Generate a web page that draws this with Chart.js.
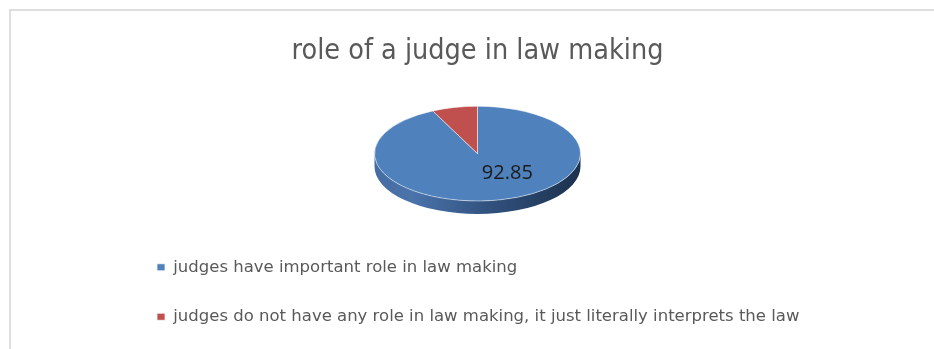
<!DOCTYPE html>
<html>
<head>
<meta charset="utf-8">
<script src="https://cdn.jsdelivr.net/npm/chart.js@4"></script>
<style>
  html, body { margin: 0; padding: 0; background: #fff; }
  #wrap { position: relative; width: 934px; height: 349px; overflow: hidden; }
  #frame { position: absolute; left: 9px; top: 9px; width: 1000px; height: 400px; border: 2px solid #dedede; }
  #wrap canvas { position: absolute; left: 0; top: 0; }
</style>
</head>
<body>
<div id="wrap"><div id="frame"></div><canvas id="chart" width="934" height="349"></canvas></div>
<script>
// chart data
const chartTitle = 'role of a judge in law making';
const categories = [
    'judges have important role in law making',
    'judges do not have any role in law making, it just literally interprets the law'
];
const values = [92.85, 7.15];
const valueLabels = ['92.85', ''];   // only the big slice is labelled

const sliceColors = ['#4f81bd', '#c0504d'];
// side wall shading (left -> right) for each slice
const sideShades = [
    ['#456ca2', '#4b74ab', '#31527f', '#1c314d'],
    ['#8f3432', '#a0403d', '#7a2a28', '#521b1a']
];

const TILT = 0.46;   // vertical squash of the pie top
const DEPTH = 13;    // thickness of the pie in px

// fake 3D pie: squash the top face and draw a side wall under it
const pie3d = {
    id: 'pie3d',
    beforeDatasetsDraw(chart) {
        const ctx = chart.ctx;
        const arcs = chart.getDatasetMeta(0).data;
        const { x: cx, y: cy, outerRadius: r } = arcs[0].getProps(['x', 'y', 'outerRadius'], true);

        ctx.save();
        arcs.forEach((arc, i) => {
            const { startAngle, endAngle } = arc.getProps(['startAngle', 'endAngle'], true);
            const shades = sideShades[i];
            const grad = ctx.createLinearGradient(cx - r, 0, cx + r, 0);
            grad.addColorStop(0, shades[0]);
            grad.addColorStop(0.18, shades[1]);
            grad.addColorStop(0.55, shades[2]);
            grad.addColorStop(1, shades[3]);
            // only the front half (0..PI) shows a wall
            for (let n = -1; n <= 1; n++) {
                const lo = Math.max(startAngle, n * 2 * Math.PI);
                const hi = Math.min(endAngle, n * 2 * Math.PI + Math.PI);
                if (hi <= lo) continue;
                ctx.beginPath();
                ctx.ellipse(cx, cy, r, r * TILT, 0, lo, hi);
                ctx.ellipse(cx, cy + DEPTH, r, r * TILT, 0, hi, lo, true);
                ctx.closePath();
                ctx.fillStyle = grad;
                ctx.fill();
            }
        });
        ctx.restore();

        ctx.save();
        ctx.translate(cx, cy);
        ctx.scale(1, TILT);
        ctx.translate(-cx, -cy);
    },
    afterDatasetsDraw(chart) {
        const ctx = chart.ctx;
        ctx.restore();

        const arcs = chart.getDatasetMeta(0).data;
        ctx.save();
        ctx.font = '20px "Open Sans"';
        ctx.fillStyle = '#1a1a1a';
        ctx.textAlign = 'center';
        ctx.textBaseline = 'middle';
        arcs.forEach((arc, i) => {
            if (!valueLabels[i]) return;
            const { x, y, outerRadius } = arc.getProps(['x', 'y', 'outerRadius'], true);
            ctx.fillText(valueLabels[i], x + outerRadius * 0.29, y + outerRadius * TILT * 0.42);
        });
        ctx.restore();
    }
};

new Chart(document.getElementById('chart'), {
    type: 'pie',
    data: {
        labels: categories,
        datasets: [{
            data: values,
            backgroundColor: sliceColors,
            borderColor: 'rgba(255,255,255,0.7)',
            borderWidth: 1,
            radius: 103
        }]
    },
    options: {
        responsive: false,
        animation: false,
        events: [],
        layout: {
            padding: { left: 124, right: 103, top: 0, bottom: 14 }
        },
        plugins: {
            title: {
                display: true,
                text: chartTitle,
                color: '#595959',
                font: { family: '"Liberation Sans Narrow", "DejaVu Sans Condensed", sans-serif', size: 28.5, weight: 'normal' },
                padding: { top: 34, bottom: 13 }
            },
            legend: {
                position: 'bottom',
                align: 'start',
                labels: {
                    boxWidth: 8,
                    boxHeight: 7,
                    padding: 33,
                    color: '#595959',
                    font: { family: '"DejaVu Sans"', size: 16.5 }
                }
            },
            tooltip: { enabled: false }
        }
    },
    plugins: [pie3d]
});
</script>
</body>
</html>
